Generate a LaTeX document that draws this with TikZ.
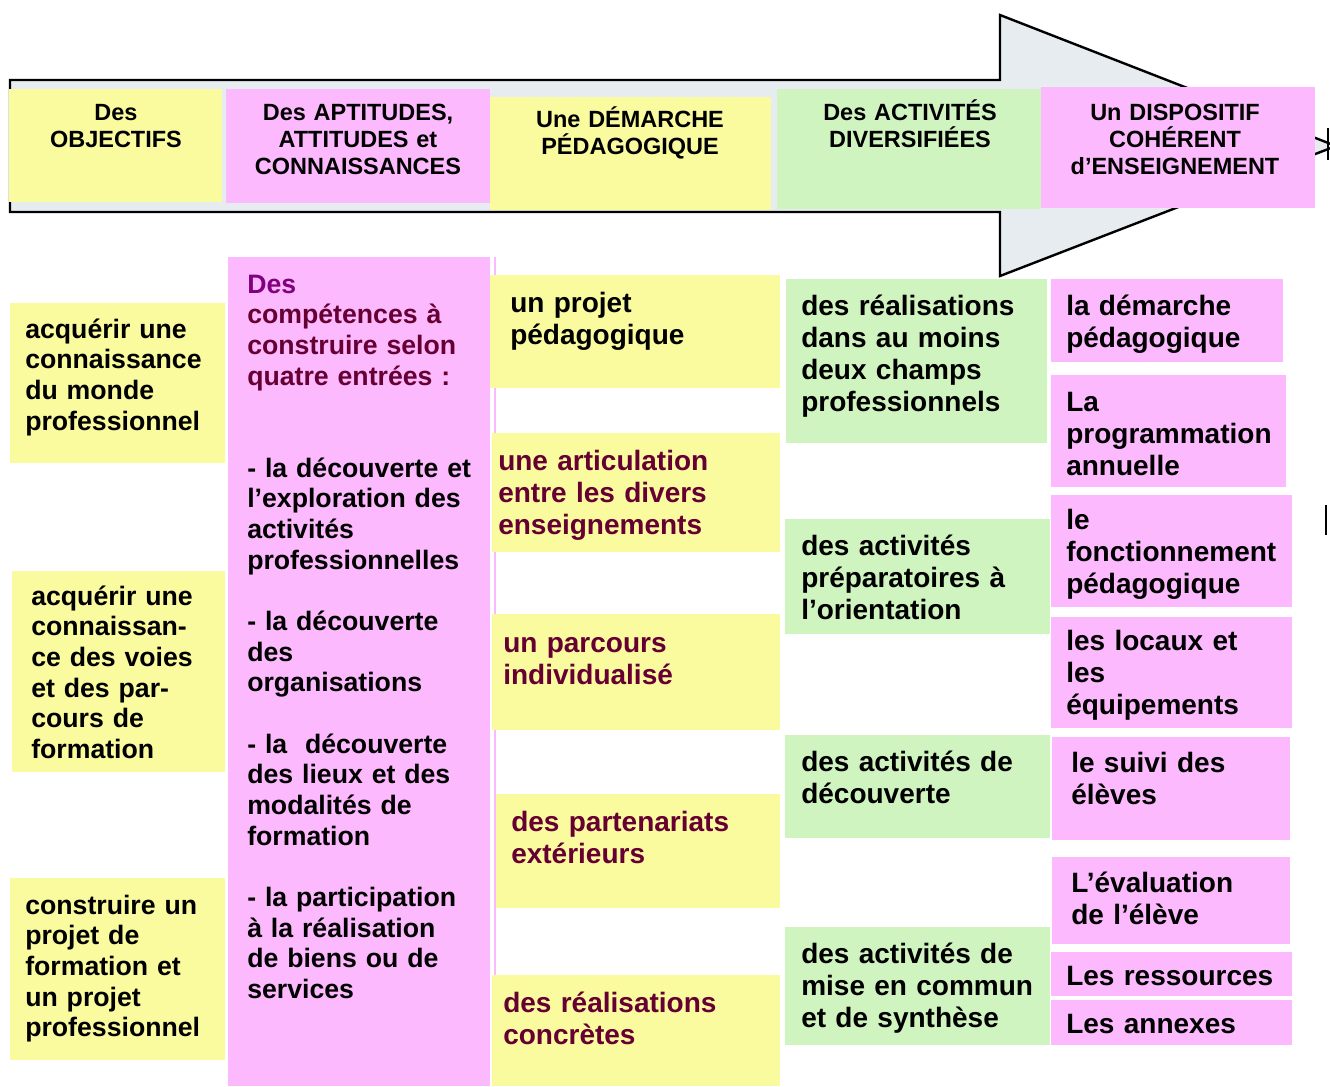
\documentclass[tikz,border=0pt]{standalone}
\usepackage{fontspec}
\setmainfont{Liberation Sans}
\usepackage{tikz}
\definecolor{postit}{RGB}{250,250,158}
\definecolor{rose}{RGB}{253,185,253}
\definecolor{vert}{RGB}{208,244,192}
\definecolor{fleche}{RGB}{230,236,240}
\definecolor{bordeaux}{RGB}{102,0,51}
\definecolor{violet}{RGB}{128,0,128}

\begin{document}
\begin{tikzpicture}[x=0.75pt,y=-0.75pt]
	\tikzstyle{every node}+=[inner sep=0pt]
	\tikzstyle{titre}=[font=\bfseries\fontsize{17.6}{20.25}\selectfont, text width=280pt, align=center, anchor=base]
	\tikzstyle{gauche}=[font=\bfseries\fontsize{20}{23}\selectfont, text width=250pt, align=left, anchor=base west]
	\tikzstyle{droite}=[font=\bfseries\fontsize{21}{24}\selectfont, text width=250pt, align=left, anchor=base west]
	\useasboundingbox (0,0) rectangle (1330,1086);
	\draw [black!70, line width=1.8pt] (1002,17) -- (1338,148);
	\draw [black, line width=1.8pt, fill=fleche] (10,80) -- (1000,80) -- (1000,15) -- (1336,146) -- (1000,276) -- (1000,212) -- (10,212) -- cycle;
	\draw [black, line width=1pt] (1328,128) -- (1328,160);
	\fill [postit] (9,89) rectangle (222,202);
	\fill [rose] (226,89) rectangle (490,203);
	\fill [postit] (490,97) rectangle (771,210);
	\fill [vert] (777,89) rectangle (1041,209);
	\fill [rose] (1041,87) rectangle (1315,208);
	\node [titre] (objectifs) at (116,120) {Des\\OBJECTIFS};
	\node [titre] (aptitudes) at (358,120) {Des APTITUDES,\\ATTITUDES et\\CONNAISSANCES};
	\node [titre] (demarche) at (630,127) {Une DÉMARCHE\\PÉDAGOGIQUE};
	\node [titre] (activites) at (910,120) {Des ACTIVITÉS\\DIVERSIFIÉES};
	\node [titre] (dispositif) at (1175,120) {Un DISPOSITIF\\COHÉRENT\\d’ENSEIGNEMENT};
	\fill [postit] (10,303) rectangle (225,463);
	\node [gauche] (obj1) at (25,338) {acquérir une\\connaissance\\du monde\\professionnel};
	\fill [postit] (12,571) rectangle (225,772);
	\node [gauche] (obj2) at (31,605) {acquérir une\\connaissan-\\ce des voies\\et des par-\\cours de\\formation};
	\fill [postit] (10,878) rectangle (225,1060);
	\node [gauche] (obj3) at (25,914) {construire un\\projet de\\formation et\\un projet\\professionnel};
	\fill [rose] (228,257) rectangle (490,1086);
	\draw [rose, line width=1.5pt] (495,257) -- (495,1086);
	\node [gauche] (competences) at (247,293) {\textcolor{violet}{Des}\\\textcolor{bordeaux}{compétences à}\\\textcolor{bordeaux}{construire selon}\\\textcolor{bordeaux}{quatre entrées :}\\[46pt]- la découverte et\\l’exploration des\\activités\\professionnelles\\[23pt]- la découverte\\des\\organisations\\[23pt]- la \ découverte\\des lieux et des\\modalités de\\formation\\[23pt]- la participation\\à la réalisation\\de biens ou de\\services};
	\fill [postit] (490,275) rectangle (780,388);
	\node [droite] (projet) at (510,312) {un projet\\pédagogique};
	\fill [postit] (492,433) rectangle (780,552);
	\node [droite, text=bordeaux] (articulation) at (498,470) {une articulation\\entre les divers\\enseignements};
	\fill [postit] (492,614) rectangle (780,730);
	\node [droite, text=bordeaux] (parcours) at (503,652) {un parcours\\individualisé};
	\fill [postit] (496,794) rectangle (780,908);
	\node [droite, text=bordeaux] (partenariats) at (511,831) {des partenariats\\extérieurs};
	\fill [postit] (492,975) rectangle (780,1086);
	\node [droite, text=bordeaux] (concretes) at (503,1012) {des réalisations\\concrètes};
	\fill [vert] (786,279) rectangle (1047,443);
	\node [droite] (champs) at (801,315) {des réalisations\\dans au moins\\deux champs\\professionnels};
	\fill [vert] (785,519) rectangle (1050,634);
	\node [droite] (orientation) at (801,555) {des activités\\préparatoires à\\l’orientation};
	\fill [vert] (785,735) rectangle (1050,838);
	\node [droite] (decouverte) at (801,771) {des activités de\\découverte};
	\fill [vert] (785,927) rectangle (1050,1045);
	\node [droite] (synthese) at (801,963) {des activités de\\mise en commun\\et de synthèse};
	\fill [rose] (1051,279) rectangle (1283,362);
	\node [droite] (dispo1) at (1066,315) {la démarche\\pédagogique};
	\fill [rose] (1051,375) rectangle (1286,487);
	\node [droite] (dispo2) at (1066,411) {La\\programmation\\annuelle};
	\fill [rose] (1051,495) rectangle (1292,607);
	\node [droite] (dispo3) at (1066,529) {le\\fonctionnement\\pédagogique};
	\fill [rose] (1051,617) rectangle (1292,728);
	\node [droite] (dispo4) at (1066,650) {les locaux et\\les\\équipements};
	\fill [rose] (1052,737) rectangle (1290,840);
	\node [droite] (dispo5) at (1071,772) {le suivi des\\élèves};
	\fill [rose] (1052,857) rectangle (1290,944);
	\node [droite] (dispo6) at (1071,892) {L’évaluation\\de l’élève};
	\fill [rose] (1051,952) rectangle (1292,996);
	\node [droite] (dispo7) at (1066,985) {Les ressources};
	\fill [rose] (1051,1000) rectangle (1292,1045);
	\node [droite] (dispo8) at (1066,1033) {Les annexes};
	\draw [black, line width=1pt] (1326,505) -- (1326,535);
\end{tikzpicture}
\end{document}
